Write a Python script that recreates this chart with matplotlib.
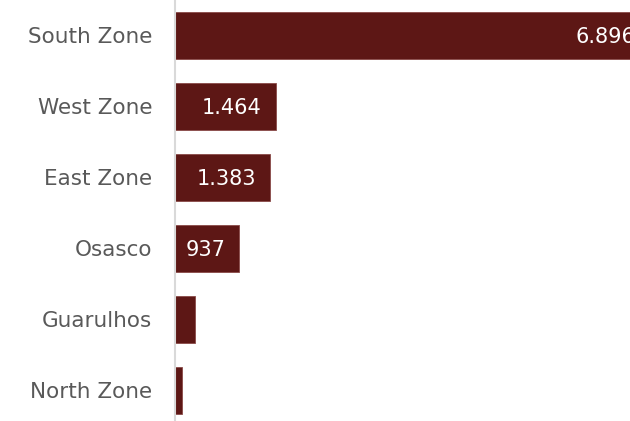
import matplotlib
matplotlib.use('Agg')
import matplotlib.pyplot as plt

categories = ['South Zone', 'West Zone', 'East Zone', 'Osasco', 'Guarulhos', 'North Zone']
values = [6896, 1464, 1383, 937, 288, 98]
labels = ['6.896', '1.464', '1.383', '937', '', '']

bar_color = '#5d1715'

plt.rcParams['font.family'] = ['DejaVu Sans']

fig = plt.figure(figsize=(6.3, 4.21), dpi=100)
ax = fig.add_axes([175 / 630, 0, 455 / 630, 1])

ypos = list(range(len(categories)))
ax.barh(ypos, values, height=0.66, color=bar_color, edgecolor='#8a4a48', linewidth=0.6)

# value labels at the inner end of each bar (small bars have none)
for y, v, lab in zip(ypos, values, labels):
    if lab:
        ax.annotate(lab, (v, y), xytext=(-10, -1.2), textcoords='offset points',
                    ha='right', va='center', color='white', fontsize=15,
                    annotation_clip=False)

ax.set_xlim(0, 6615)
ax.set_ylim(5.43, -0.5)
ax.set_yticks(ypos)
ax.set_yticklabels(categories, fontsize=15.5, color='#595959')
ax.tick_params(axis='y', length=0, pad=16.5)
ax.set_xticks([])
for s in ['top', 'right', 'bottom']:
    ax.spines[s].set_visible(False)
ax.spines['left'].set_color('#d9d9d9')
ax.spines['left'].set_linewidth(1.5)

fig.savefig('out.png', dpi=100)
